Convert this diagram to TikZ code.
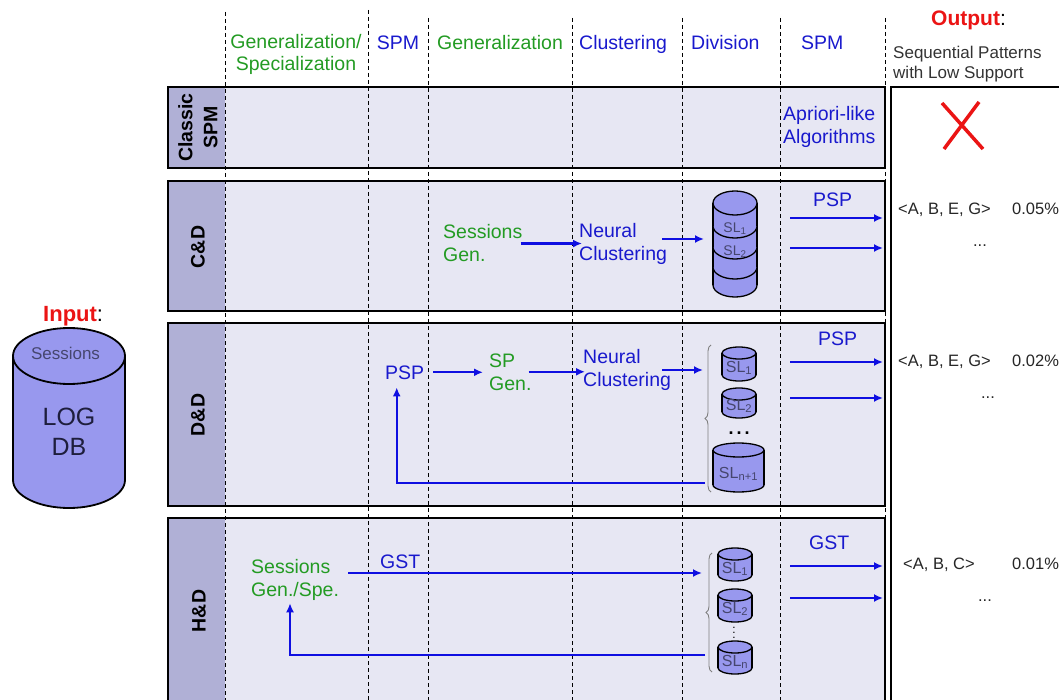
\documentclass[tikz,border=0pt]{standalone}
\usepackage{fontspec}
\setmainfont{Liberation Sans}
\usetikzlibrary{arrows.meta,decorations.pathreplacing}
\definecolor{bandfill}{RGB}{231,231,243}
\definecolor{labfill}{RGB}{176,176,214}
\definecolor{cylfill}{RGB}{152,152,238}
\definecolor{tblue}{RGB}{25,25,205}
\definecolor{ablue}{RGB}{15,15,225}
\definecolor{tgreen}{RGB}{35,155,35}
\definecolor{ared}{RGB}{235,20,20}
\definecolor{slgray}{RGB}{70,70,110}
\definecolor{dbtext}{RGB}{30,30,60}
\newcommand{\dbdisk}[5]{%
  \filldraw[cylline] (#1,#4) ellipse [x radius=#2, y radius=#5];
  \fill[cylfill] (#1-#2,#3) rectangle (#1+#2,#4);
  \draw[cylline] (#1-#2,#3) -- (#1-#2,#4) (#1+#2,#3) -- (#1+#2,#4);}
\newcommand{\dbcyl}[5]{%
  \dbdisk{#1}{#2}{#3}{#4}{#5}%
  \filldraw[cylline] (#1,#3) ellipse [x radius=#2, y radius=#5];}
\begin{document}
\begin{tikzpicture}[x=1pt,y=-1pt,
  bandline/.style={draw=black,line width=1.8pt},
  dashline/.style={draw=black,line width=0.9pt,dash pattern=on 4pt off 3pt},
  hdr/.style={font=\fontsize{19.5}{22}\selectfont,inner sep=0pt},
  btxt/.style={text=tblue,font=\fontsize{19.5}{23}\selectfont,inner sep=0pt,align=left},
  gtxt/.style={text=tgreen,font=\fontsize{19.5}{23}\selectfont,inner sep=0pt,align=left},
  rowlab/.style={font=\fontsize{19.5}{25}\selectfont\bfseries,inner sep=0pt,align=center,rotate=90},
  outtxt/.style={font=\fontsize{16.5}{20}\selectfont,inner sep=0pt,text=black!85},
  sltxt/.style={font=\fontsize{16}{18}\selectfont,inner sep=0pt,text=slgray},
  slsmall/.style={font=\fontsize{14}{16}\selectfont,inner sep=0pt,text=slgray},
  dotstxt/.style={font=\fontsize{18}{20}\selectfont\bfseries,inner sep=0pt},
  arr/.style={draw=ablue,line width=2.2pt,-{Latex[length=9pt,width=8pt]}},
  cylline/.style={draw=black,fill=cylfill,line width=1.3pt},
  bracest/.style={draw=gray,line width=0.9pt,decorate,decoration={brace,amplitude=6pt}}
]
\useasboundingbox (0,0) rectangle (1059,700);
\clip (0,0) rectangle (1059,700);

% ---- row bands
\foreach \t/\b in {87/168,181/311,323/506,518/712}{
  \fill[bandfill] (168,\t) rectangle (885,\b);
  \fill[labfill] (168,\t) rectangle (225,\b);
  \draw[bandline] (168,\t) rectangle (885,\b);
}
% ---- output box
\draw[bandline,fill=white] (891,87) rectangle (1075,712);
% ---- column separators
\foreach \x/\t in {225/12,368/10,428/18,572/18,682/18,780/18,885/18}
  \draw[dashline] (\x,\t) -- (\x,700);

% ---- headers
\node[hdr,text=tgreen,align=center,anchor=base] (hgs) at (296,71) {Generalization/\\Specialization};
\node[hdr,text=tblue,anchor=base] (hspma) at (398,50) {SPM};
\node[hdr,text=tgreen,anchor=base west] (hgen) at (437,50) {Generalization};
\node[hdr,text=tblue,anchor=base west] (hclu) at (579,50) {Clustering};
\node[hdr,text=tblue,anchor=base west] (hdiv) at (691,50) {Division};
\node[hdr,text=tblue,anchor=base west] (hspmb) at (801,50) {SPM};
\node[anchor=base west,inner sep=0pt,font=\fontsize{21}{24}\selectfont] (hout) at (931,26) {\textcolor{ared}{\bfseries Output}:};
\node[font=\fontsize{17}{20}\selectfont,inner sep=0pt,align=left,anchor=base west,text=black!80] (hseq) at (893,79) {Sequential Patterns\\with Low Support};

% ---- row labels
\node[rowlab] (lcl) at (198,127.5) {Classic\\SPM};
\node[rowlab] (lcd) at (198,247) {C\&D};
\node[rowlab] (ldd) at (198,415) {D\&D};
\node[rowlab] (lhd) at (199,611) {H\&D};

% ---- Classic SPM
\node[btxt,anchor=base west] (apr) at (783,144) {Apriori-like\\Algorithms};
\draw[ared,line width=3.5pt] (942,103) -- (983,149) (979,102) -- (944,149);

% ---- C&D
\node[gtxt,anchor=base west] (cdsg) at (443,262) {Sessions\\Gen.};
\node[btxt,anchor=base west] (cdnc) at (579,261) {Neural\\Clustering};
\draw[arr,shorten <=-2pt,shorten >=-3pt] (cdsg.east) -- (cdsg.east -| cdnc.west);
\dbdisk{735}{22}{267}{285}{12}
\dbdisk{735}{22}{247}{267}{12}
\dbdisk{735}{22}{226}{247}{12}
\dbdisk{735}{22}{203}{226}{12}
\filldraw[cylline] (735,203) ellipse [x radius=22, y radius=12];
\node[slsmall] (cdsla) at (735,229) {SL\textsubscript{1}};
\node[slsmall] (cdslb) at (735,252) {SL\textsubscript{2}};
\coordinate (cdA) at (662,239);
\coordinate (cdB) at (704,239);
\draw[arr] (cdA) -- (cdB);
\node[hdr,text=tblue,anchor=base west] (cdpsp) at (813,207) {PSP};
\coordinate (cdPa) at (790,218); \coordinate (cdPb) at (883,218);
\coordinate (cdPc) at (790,248); \coordinate (cdPd) at (883,248);
\draw[arr] (cdPa) -- (cdPb);
\draw[arr] (cdPc) -- (cdPd);
\node[outtxt,anchor=base west] (cdoa) at (898,215) {<A, B, E, G>};
\node[outtxt,anchor=base west] (cdob) at (1012,215) {0.05\%};
\node[outtxt,anchor=base] (cdoc) at (980,247) {...};

% ---- D&D
\node[btxt,anchor=base west] (dpsp) at (385,379) {PSP};
\node[gtxt,anchor=base west] (dspg) at (489,390) {SP\\Gen.};
\node[btxt,anchor=base west] (dnc) at (583,386) {Neural\\Clustering};
\draw[arr,shorten >=6pt] ([xshift=9pt]dpsp.east) -- (dpsp.east -| dspg.west);
\draw[arr,shorten <=-3pt,shorten >=-2pt] (dspg.east) -- (dspg.east -| dnc.west);
\coordinate (dA) at (662,370);
\coordinate (dB) at (703,370);
\draw[arr] (dA) -- (dB);
\draw[bracest] (711,492) -- (711,345);
\dbcyl{739}{17}{353}{375}{6}
\dbcyl{739}{17}{394}{412}{6}
\dbcyl{738.5}{25.5}{450}{485}{7}
\node[sltxt] (dsla) at (739,368) {SL\textsubscript{1}};
\node[sltxt] (dslb) at (739,406) {SL\textsubscript{2}};
\node[dotstxt] (ddots) at (739,433) {.\hspace{3pt}.\hspace{3pt}.};
\node[sltxt] (dsln) at (738.5,474) {SL\textsubscript{n+1}};
\coordinate (dfb) at (705,483);
\draw[arr,shorten >=8pt] (dfb) -| ([xshift=-8pt]dpsp.south);
\node[hdr,text=tblue,anchor=base west] (dpspb) at (818,345) {PSP};
\coordinate (dPa) at (790,362); \coordinate (dPb) at (883,362);
\coordinate (dPc) at (790,398); \coordinate (dPd) at (883,398);
\draw[arr] (dPa) -- (dPb);
\draw[arr] (dPc) -- (dPd);
\node[outtxt,anchor=base west] (doa) at (898,366) {<A, B, E, G>};
\node[outtxt,anchor=base west] (dob) at (1012,366) {0.02\%};
\node[outtxt,anchor=base] (doc) at (988,398) {...};

% ---- H&D
\node[gtxt,anchor=base west] (hsg) at (251,596) {Sessions\\Gen./Spe.};
\node[btxt,anchor=base west] (hgst) at (380,568) {GST};
\coordinate (hA) at (348,573);
\coordinate (hB) at (702,573);
\draw[arr] (hA) -- (hB);
\draw[bracest] (712,672) -- (712,553);
\dbcyl{735}{17}{554}{575}{6}
\dbcyl{735}{17}{595}{616}{6}
\dbcyl{735}{17}{647}{668}{6}
\node[sltxt] (hsla) at (735,569) {SL\textsubscript{1}};
\node[sltxt] (hslb) at (735,609) {SL\textsubscript{2}};
\node[sltxt] (hsln) at (735,662) {SL\textsubscript{n}};
\node[font=\fontsize{12}{14}\selectfont,inner sep=0pt,rotate=90] (hdots) at (734,633) {.\hspace{1.5pt}.\hspace{1.5pt}.};
\coordinate (hfb) at (705,655);
\draw[arr,shorten >=3pt] (hfb) -| ([xshift=39pt]hsg.south west);
\node[hdr,text=tblue,anchor=base west] (hgstb) at (809,549) {GST};
\coordinate (hPa) at (790,566); \coordinate (hPb) at (883,566);
\coordinate (hPc) at (790,598); \coordinate (hPd) at (883,598);
\draw[arr] (hPa) -- (hPb);
\draw[arr] (hPc) -- (hPd);
\node[outtxt,anchor=base west] (hoa) at (903,569) {<A, B, C>};
\node[outtxt,anchor=base west] (hob) at (1012,569) {0.01\%};
\node[outtxt,anchor=base] (hoc) at (985,601) {...};

% ---- Input: LOG DB
\node[anchor=base west,inner sep=0pt,font=\fontsize{22}{24}\selectfont] (inp) at (43,321) {\textcolor{ared}{\bfseries Input}:};
\begin{scope}[cylline/.append style={line width=1.8pt}]
\dbcyl{69}{56}{356}{480}{28}
\end{scope}
\node[font=\fontsize{17}{20}\selectfont,text=slgray,inner sep=0pt] (logses) at (65.5,353) {Sessions};
\node[font=\fontsize{25}{30}\selectfont,text=dbtext,align=center,inner sep=0pt] (logdb) at (69,432) {LOG\\DB};
\end{tikzpicture}
\end{document}
